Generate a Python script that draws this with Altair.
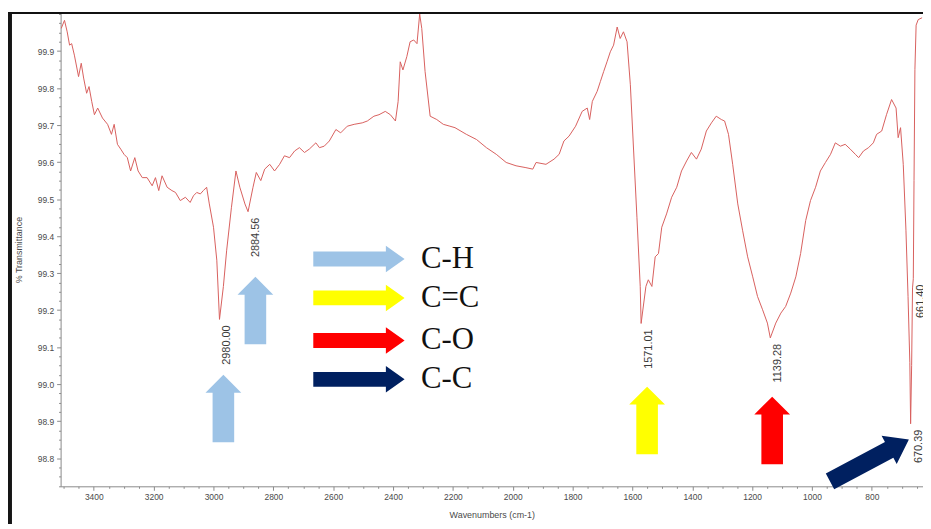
import altair as alt
import pandas as pd

# ---------------- spectrum ----------------
wavenumber = [
    3509, 3498, 3489, 3481, 3474, 3465, 3451, 3442, 3434, 3424,
    3416, 3407, 3398, 3387, 3371, 3354, 3341, 3332, 3321, 3310,
    3299, 3288, 3277, 3263, 3252, 3238, 3222, 3205, 3194, 3183,
    3172, 3155, 3139, 3127, 3111, 3094, 3078, 3067, 3056, 3044,
    3034, 3023, 3014, 3000, 2989, 2980, 2967, 2956, 2940, 2925,
    2912, 2895, 2884.56, 2868, 2857, 2842, 2829, 2812, 2796, 2779,
    2763, 2746, 2729, 2713, 2696, 2680, 2658, 2646, 2630, 2613,
    2591, 2575, 2553, 2530, 2503, 2486, 2464, 2447, 2426, 2409,
    2392, 2383, 2376, 2367, 2354, 2343, 2331, 2320, 2311, 2304,
    2293, 2276, 2254, 2232, 2210, 2193, 2155, 2121, 2088, 2055,
    2022, 1989, 1956, 1933, 1922, 1889, 1862, 1845, 1829, 1812,
    1790, 1768, 1751, 1743, 1734, 1718, 1707, 1696, 1685, 1674,
    1663, 1651, 1641, 1630, 1618, 1607, 1596, 1585, 1574, 1571.01,
    1555, 1547, 1535, 1524, 1513, 1502, 1486, 1469, 1452, 1436,
    1419, 1403, 1386, 1370, 1353, 1336, 1320, 1303, 1292, 1279,
    1265, 1248, 1232, 1215, 1198, 1182, 1165, 1149, 1139.28, 1121,
    1104, 1088, 1071, 1054, 1038, 1021, 1005, 988, 972, 955,
    938, 922, 905, 889, 872, 855, 844, 828, 811, 795,
    784, 767, 751, 734, 719, 712, 704, 695, 686, 679,
    673, 670.39, 667, 664, 661.4, 659, 656, 652, 645, 632,
]
transmittance = [
    99.961, 99.983, 99.952, 99.916, 99.920, 99.889, 99.831, 99.867, 99.827, 99.786,
    99.804, 99.764, 99.728, 99.746, 99.719, 99.702, 99.675, 99.702, 99.648, 99.635,
    99.621, 99.612, 99.576, 99.612, 99.576, 99.558, 99.558, 99.536, 99.558, 99.523,
    99.563, 99.532, 99.523, 99.518, 99.496, 99.505, 99.491, 99.509, 99.518, 99.514,
    99.523, 99.532, 99.487, 99.424, 99.335, 99.175, 99.264, 99.362, 99.478, 99.576,
    99.532, 99.487, 99.466, 99.532, 99.572, 99.550, 99.581, 99.594, 99.576, 99.594,
    99.617, 99.612, 99.630, 99.639, 99.626, 99.635, 99.652, 99.639, 99.643, 99.657,
    99.688, 99.679, 99.697, 99.702, 99.706, 99.711, 99.724, 99.728, 99.737, 99.728,
    99.711, 99.764, 99.871, 99.849, 99.885, 99.925, 99.930, 99.920, 100.0, 99.961,
    99.845, 99.724, 99.715, 99.702, 99.697, 99.693, 99.675, 99.661, 99.639, 99.621,
    99.599, 99.590, 99.585, 99.581, 99.599, 99.594, 99.608, 99.621, 99.657, 99.670,
    99.697, 99.737, 99.746, 99.715, 99.764, 99.791, 99.818, 99.845, 99.871, 99.898,
    99.916, 99.965, 99.934, 99.952, 99.925, 99.809, 99.630, 99.451, 99.264, 99.164,
    99.264, 99.282, 99.264, 99.344, 99.353, 99.424, 99.460, 99.505, 99.532, 99.576,
    99.603, 99.626, 99.608, 99.635, 99.684, 99.706, 99.724, 99.715, 99.711, 99.675,
    99.594, 99.487, 99.416, 99.344, 99.290, 99.237, 99.201, 99.165, 99.125, 99.165,
    99.192, 99.210, 99.246, 99.290, 99.353, 99.442, 99.496, 99.532, 99.576, 99.599,
    99.621, 99.652, 99.643, 99.648, 99.635, 99.621, 99.612, 99.630, 99.639, 99.652,
    99.675, 99.684, 99.728, 99.769, 99.746, 99.666, 99.693, 99.594, 99.416, 99.237,
    99.058, 98.893, 99.050, 99.260, 99.285, 99.550, 99.850, 99.970, 99.985, 99.990,
]

# ---------------- peak labels ----------------
peak_wavenumber = [2980.00, 2884.56, 1571.01, 1139.28, 670.39, 661.40]
peak_transmittance = [99.175, 99.466, 99.164, 99.125, 98.893, 99.285]
peak_label = ["2980.00", "2884.56", "1571.01", "1139.28", "670.39", "661.40"]

# ---------------- annotation arrows ----------------
up_arrow_wavenumber = [2967, 2860, 1551, 1133]
up_arrow_transmittance = [98.934, 99.199, 98.902, 98.875]
up_arrow_color = ["#9DC3E6", "#9DC3E6", "#FFFF00", "#FF0000"]

diag_arrow_wavenumber = [808]
diag_arrow_transmittance = [98.794]
diag_arrow_color = ["#002060"]

legend_label = ["C-H", "C=C", "C-O", "C-C"]
legend_color = ["#9DC3E6", "#FFFF00", "#FF0000", "#002060"]
legend_transmittance = [99.338, 99.233, 99.118, 99.013]
legend_arrow_wavenumber = [2514, 2514, 2514, 2514]
legend_text_wavenumber = [2307, 2307, 2307, 2307]

# ---------------- axis ticks ----------------
x_major = [800, 1000, 1200, 1400, 1600, 1800, 2000, 2200, 2400, 2600, 2800, 3000, 3200, 3400]
y_major = [98.8, 98.9, 99.0, 99.1, 99.2, 99.3, 99.4, 99.5, 99.6, 99.7, 99.8, 99.9]
x_minor = [v for v in range(650, 3501, 50) if v not in x_major]
y_minor = [round(98.725 + 0.025 * i, 3) for i in range(52) if round(98.725 + 0.025 * i, 3) not in y_major]

spec = pd.DataFrame({"wavenumber": wavenumber, "transmittance": transmittance})
peaks = pd.DataFrame({"wavenumber": peak_wavenumber, "transmittance": peak_transmittance, "label": peak_label})
ups = pd.DataFrame({"wavenumber": up_arrow_wavenumber, "transmittance": up_arrow_transmittance, "color": up_arrow_color})
diag = pd.DataFrame({"wavenumber": diag_arrow_wavenumber, "transmittance": diag_arrow_transmittance, "color": diag_arrow_color})
leg_arrows = pd.DataFrame({"wavenumber": legend_arrow_wavenumber, "transmittance": legend_transmittance, "color": legend_color})
leg_text = pd.DataFrame({"wavenumber": legend_text_wavenumber, "transmittance": legend_transmittance, "label": legend_label})

axis_grey = "#8a8a8a"
label_grey = "#4a4a4a"

x_scale = alt.Scale(domain=[629, 3511], reverse=True, nice=False, zero=False)
y_scale = alt.Scale(domain=[98.724, 100.003], nice=False, zero=False)

x_enc = alt.X(
    "wavenumber:Q", scale=x_scale,
    axis=alt.Axis(
        values=x_major, format="d", tickSize=4, labelOverlap=False, labelFlush=False,
        labelPadding=2, title="Wavenumbers (cm-1)", titlePadding=10, grid=False, orient="bottom",
    ),
)
y_enc = alt.Y(
    "transmittance:Q", scale=y_scale,
    axis=alt.Axis(
        values=y_major, format=".1f", tickSize=4, labelOverlap=False, labelFlush=False,
        labelPadding=3, title="% Transmittance", titlePadding=14, grid=False, orient="left",
    ),
)
X = alt.X("wavenumber:Q", scale=x_scale, axis=None)
Y = alt.Y("transmittance:Q", scale=y_scale, axis=None)

line = alt.Chart(spec).mark_line(color="#D8605E", strokeWidth=1, clip=True).encode(x=x_enc, y=y_enc)

# minor tick layer: its own axes with short ticks and no labels
minor = alt.Chart(spec).mark_line(opacity=0).encode(
    x=alt.X("wavenumber:Q", scale=x_scale,
            axis=alt.Axis(values=x_minor, tickSize=2, labels=False, title=None, domain=False,
                          grid=False, orient="bottom")),
    y=alt.Y("transmittance:Q", scale=y_scale,
            axis=alt.Axis(values=y_minor, tickSize=2, labels=False, title=None, domain=False,
                          grid=False, orient="left")),
)

peak_text = alt.Chart(peaks).mark_text(
    angle=270, align="right", baseline="top", dx=-6, dy=2,
    fontSize=11, font="Liberation Sans", color="#3a3a3a",
).encode(x=X, y=Y, text="label:N")

up_path = "M-0.32,1 L-0.32,-0.47 L-0.53,-0.47 L0,-1 L0.53,-0.47 L0.32,-0.47 L0.32,1 Z"
right_path = "M-1,-0.163 L0.59,-0.163 L0.59,-0.29 L1,0 L0.59,0.29 L0.59,0.163 L-1,0.163 Z"
diag_path = "M-1,-0.2 L0.5,-0.2 L0.5,-0.36 L1,0 L0.5,0.36 L0.5,0.2 L-1,0.2 Z"

up_arrows = alt.Chart(ups).mark_point(
    shape=up_path, filled=True, size=4624, opacity=1, strokeWidth=0
).encode(x=X, y=Y, color=alt.Color("color:N", scale=None))

diag_arrow = alt.Chart(diag).mark_point(
    shape=diag_path, filled=True, size=8100, opacity=1, strokeWidth=0, angle=332
).encode(x=X, y=Y, color=alt.Color("color:N", scale=None))

legend_arrows = alt.Chart(leg_arrows).mark_point(
    shape=right_path, filled=True, size=8464, opacity=1, strokeWidth=0
).encode(x=X, y=Y, color=alt.Color("color:N", scale=None))

legend_texts = alt.Chart(leg_text).mark_text(
    align="left", baseline="middle", fontSize=31, font="Liberation Serif", color="#111111"
).encode(x=X, y=Y, text="label:N")

frame_top = alt.Chart().mark_rule(color="#111111", strokeWidth=2).encode(
    x=alt.value(-53), x2=alt.value(880), y=alt.value(0)
)
frame_left = alt.Chart().mark_rule(color="#151515", strokeWidth=4).encode(
    x=alt.value(-51), y=alt.value(0), y2=alt.value(540)
)

chart = alt.layer(
    line, minor, peak_text, up_arrows, diag_arrow, legend_arrows, legend_texts, frame_top, frame_left
).resolve_scale(
    x="independent", y="independent"
).properties(
    width=869,
    height=477,
    padding={"left": 53, "top": 3, "right": 0, "bottom": 36},
    autosize=alt.AutoSizeParams(type="none"),
    background="white",
).configure_view(
    stroke=None
).configure_axis(
    domainColor=axis_grey,
    tickColor=axis_grey,
    labelColor=label_grey,
    labelFont="Liberation Sans",
    labelFontSize=8.5,
    titleFont="Liberation Sans",
    titleFontSize=9,
    titleFontWeight="normal",
    titleColor=label_grey,
)

chart.save("out.html", embed_options={"renderer": "svg", "actions": False})
